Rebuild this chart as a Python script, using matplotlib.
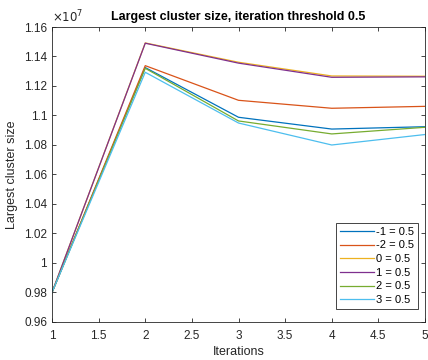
import matplotlib.pyplot as plt
from matplotlib.ticker import FuncFormatter
import numpy as np

plt.rcParams['font.family'] = ['Liberation Sans', 'DejaVu Sans']

# data (cluster size)
iterations = [1, 2, 3, 4, 5]
labels = ['-1 = 0.5', '-2 = 0.5', '0 = 0.5', '1 = 0.5', '2 = 0.5', '3 = 0.5']
s_m1 = [9.80e6, 1.1325e7, 1.0988e7, 1.0908e7, 1.0924e7]
s_m2 = [9.80e6, 1.1338e7, 1.1103e7, 1.1049e7, 1.1062e7]
s_0 = [9.80e6, 1.1492e7, 1.1361e7, 1.1268e7, 1.1266e7]
s_1 = [9.80e6, 1.1490e7, 1.1355e7, 1.1259e7, 1.1262e7]
s_2 = [9.80e6, 1.1320e7, 1.0963e7, 1.0875e7, 1.0920e7]
s_3 = [9.80e6, 1.1293e7, 1.0949e7, 1.0800e7, 1.0871e7]
series = [s_m1, s_m2, s_0, s_1, s_2, s_3]

colors = ['#0072BD', '#D95319', '#EDB120', '#7E2F8E', '#77AC30', '#4DBEEE']

fig = plt.figure(figsize=(4.28, 3.6), dpi=100)
ax = fig.add_axes([0.1215, 0.1056, 0.8715, 0.8194])

for s, lab, c in zip(series, labels, colors):
    ax.plot(iterations, s, color=c, linewidth=0.9, label=lab)

ax.set_xlim(1, 5)
ax.set_ylim(0.96e7, 1.16e7)
ax.set_xticks(np.arange(1, 5.01, 0.5))
ax.set_yticks(np.arange(0.96e7, 1.1601e7, 0.02e7))
ax.xaxis.set_major_formatter(FuncFormatter(lambda v, p: f'{v:g}'))
ax.yaxis.set_major_formatter(FuncFormatter(lambda v, p: f'{round(v / 1e7, 2):g}'))

axcol = '#262626'
for sp in ax.spines.values():
    sp.set_color(axcol)
    sp.set_linewidth(0.6)
ax.tick_params(direction='in', top=True, right=True, length=3, width=0.6,
               color=axcol, labelcolor=axcol, labelsize=8.5)
ax.tick_params(axis='x', pad=6)

ax.text(0.0, 1.005, r'$\times10^7$', transform=ax.transAxes, fontsize=8.5,
        color=axcol, ha='left', va='bottom')
ax.set_title('Largest cluster size, iteration threshold 0.5', fontsize=9,
             fontweight='bold', pad=5)
ax.set_xlabel('Iterations', fontsize=9, color=axcol, labelpad=3)
ax.set_ylabel('Largest cluster size', fontsize=9, color=axcol, labelpad=4)

leg = ax.legend(loc='lower right', bbox_to_anchor=(0.981, 0.044),
                borderaxespad=0, fontsize=8, fancybox=False, framealpha=1,
                edgecolor=axcol, handlelength=3.1, handletextpad=0.15,
                labelspacing=0.33, borderpad=0.35)
leg.get_frame().set_linewidth(0.6)

plt.savefig('out.png', dpi=100)
plt.close()
